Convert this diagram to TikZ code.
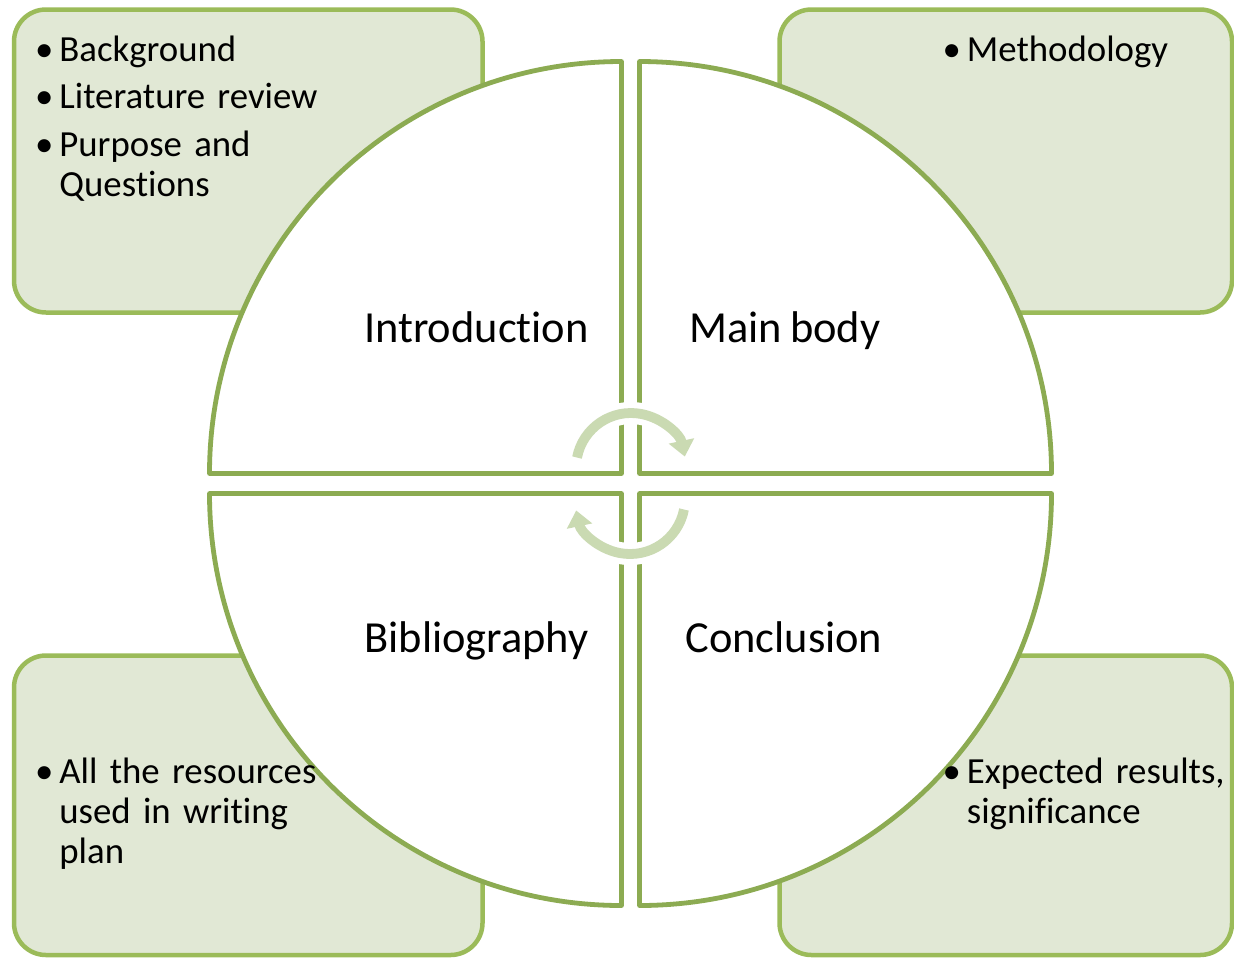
\documentclass[tikz,border=0pt]{standalone}
\usepackage{fontspec}
\setmainfont{Carlito}[Ligatures=NoCommon,WordSpace=0.8]
\usepackage{tikz}
\usetikzlibrary{arrows.meta}
\definecolor{cadrevert}{RGB}{155,187,89}
\definecolor{fondvert}{RGB}{225,232,213}
\definecolor{quartvert}{RGB}{140,171,82}
\definecolor{flechevert}{RGB}{202,218,178}
\newcommand\Puce{\leavevmode\llap{\textbullet\hspace{3pt}}}

\begin{document}
\begin{tikzpicture}[x=0.5pt,y=-0.5pt]
\tikzstyle{cadre}=[draw=cadrevert,fill=fondvert,line width=2.25pt,rounded corners=16pt]
\tikzstyle{quartier}=[draw=quartvert,fill=white,line width=2.4pt,line join=round]
\tikzstyle{halo}=[draw=white,line width=11pt]
\tikzstyle{fleche}=[-{Triangle[length=8pt,width=12.5pt]},draw=flechevert,line width=4.9pt]
\tikzstyle{titre}=[font=\fontsize{22.2}{26}\selectfont,inner sep=0pt]
\tikzstyle{puce}=[font=\fontsize{18.4}{20}\selectfont,inner sep=0pt,anchor=base west,text width=150pt,align=left]
\def\Rayon{412}
\def\RayonFleche{55}
\useasboundingbox (0,0) rectangle (1234,959);
\clip (0,0) rectangle (1234,959);
\draw[cadre] (14,9.5) rectangle (482.5,312.5);
\draw[cadre] (779.5,9.5) rectangle (1232,312.5);
\draw[cadre] (14,655.5) rectangle (482.5,955);
\draw[cadre] (779.5,655.5) rectangle (1232,955);
\coordinate (QA) at (621.5,473.5);
\coordinate (QB) at (639.5,473.5);
\coordinate (QC) at (621.5,493.5);
\coordinate (QD) at (639.5,493.5);
\draw[quartier] (QA) -- ++(-\Rayon,0) arc[start angle=180,end angle=270,radius=\Rayon] -- cycle;
\draw[quartier] (QB) -- ++(0,-\Rayon) arc[start angle=270,end angle=360,radius=\Rayon] -- cycle;
\draw[quartier] (QD) -- ++(\Rayon,0) arc[start angle=0,end angle=90,radius=\Rayon] -- cycle;
\draw[quartier] (QC) -- ++(0,\Rayon) arc[start angle=90,end angle=180,radius=\Rayon] -- cycle;
\coordinate (FH) at (631,468);
\coordinate (FB) at (630,499);
\draw[halo] (FH) ++(191:\RayonFleche) arc[start angle=191,end angle=330,radius=\RayonFleche];
\draw[halo] (FB) ++(11:\RayonFleche) arc[start angle=11,end angle=150,radius=\RayonFleche];
\draw[fleche] (FH) ++(191:\RayonFleche) arc[start angle=191,end angle=348,radius=\RayonFleche];
\draw[fleche] (FB) ++(11:\RayonFleche) arc[start angle=11,end angle=168,radius=\RayonFleche];
\node[titre,anchor=base east] (Intro) at (589,342) {Introduction};
\node[titre,anchor=base west] (Corps) at (689,342) {Main body};
\node[titre,anchor=base east] (Biblio) at (589,652) {Bibliography};
\node[titre,anchor=base west] (Concl) at (685,652) {Conclusion};
\node[puce] (Introa) at (59,61) {\Puce Background};
\node[puce] (Introb) at (59,108.5) {\Puce Literature review};
\node[puce] (Introc) at (59,156.5) {\Puce Purpose and\\Questions};
\node[puce] (Corpsa) at (966.5,61) {\Puce Methodology};
\node[puce] (Biblioa) at (59,783.5) {\Puce All the resources\\used in writing\\plan};
\node[puce] (Concla) at (966.5,783.5) {\Puce Expected results,\\significance};
\end{tikzpicture}
\end{document}
